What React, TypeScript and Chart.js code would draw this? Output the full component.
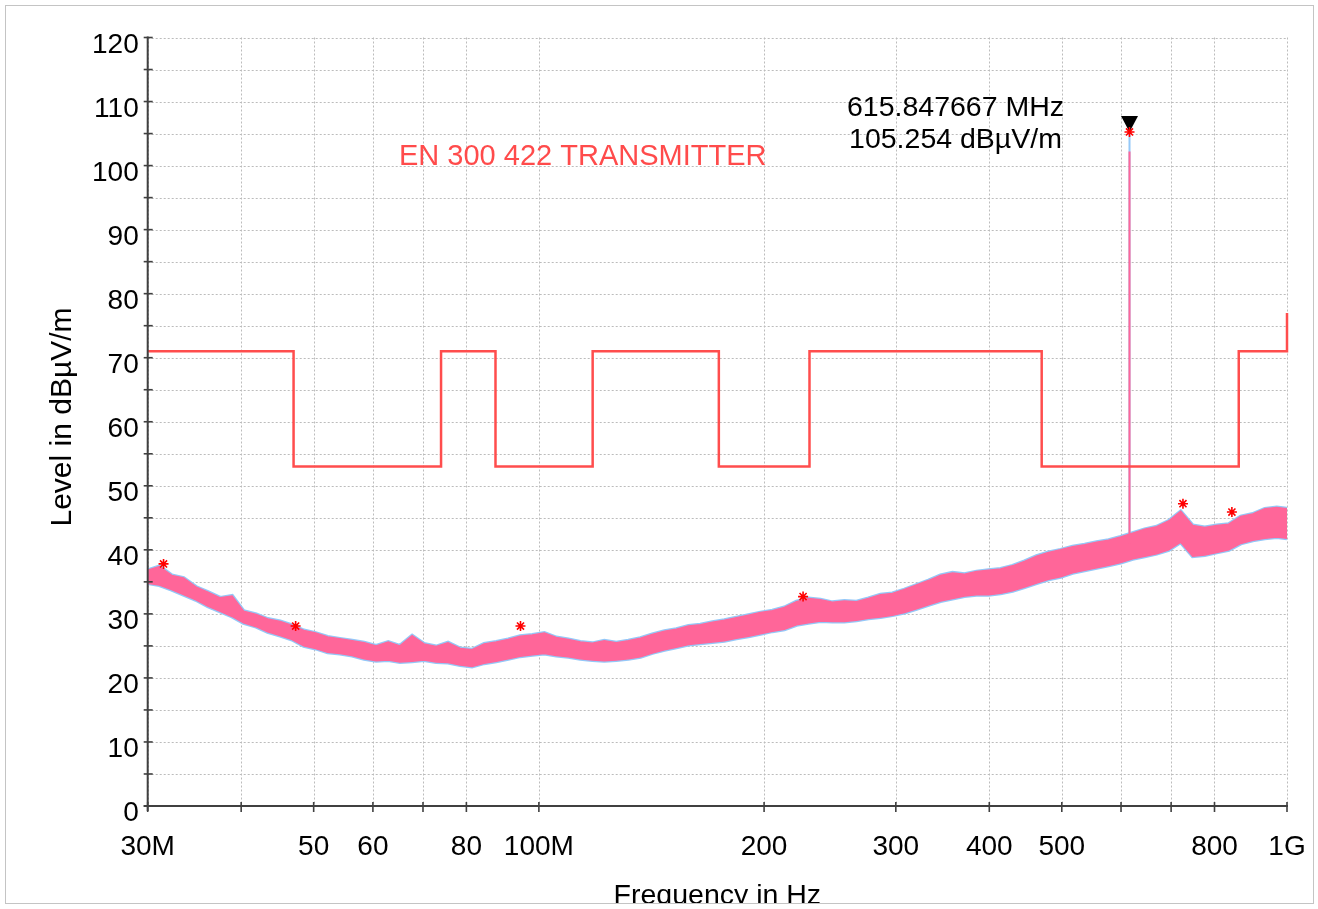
import React, { useEffect, useRef } from 'react';
import { Chart, registerables } from 'chart.js';

Chart.register(...registerables);

const FONT = '"Liberation Sans", Arial, Helvetica, sans-serif';

// Frequency points of the measured trace (MHz)
const freqMHz = [
  30, 31.1, 32.3, 33.5, 34.8, 36.1, 37.5, 38.9, 40.3, 41.9,
  43.4, 45.1, 46.8, 48.5, 50.3, 52.2, 54.2, 56.3, 58.4, 60.6,
  62.9, 65.2, 67.7, 70.2, 72.9, 75.6, 78.5, 81.4, 84.5, 87.7,
  91.0, 94.4, 98.0, 101.7, 105.5, 109.5, 113.6, 117.9, 122.3, 126.9,
  131.7, 136.7, 141.8, 147.2, 152.7, 158.5, 164.4, 170.6, 177.0, 183.7,
  190.6, 197.8, 205.2, 212.9, 221.0, 229.3, 237.9, 246.8, 256.1, 265.8,
  275.8, 286.2, 296.9, 308.1, 319.7, 331.7, 344.2, 357.2, 370.6, 384.6,
  399.1, 414.1, 429.7, 445.9, 462.7, 480.1, 498.2, 516.9, 536.4, 556.6,
  577.5, 599.3, 621.9, 645.3, 669.6, 694.8, 721.0, 748.1, 776.3, 805.5,
  835.9, 867.4, 900.0, 934.0, 969.1, 1000,
];

// Upper / lower envelope of the noise trace (dBµV/m)
const traceUpper = [
  36.8, 37.4, 36.0, 35.6, 34.2, 33.4, 32.5, 32.8, 30.4, 29.9,
  29.2, 28.8, 28.2, 27.4, 27.0, 26.4, 26.1, 25.8, 25.5, 25.0,
  25.6, 25.0, 26.6, 25.3, 24.9, 25.5, 24.6, 24.4, 25.3, 25.6,
  26.0, 26.5, 26.7, 27.0, 26.3, 26.0, 25.6, 25.4, 25.8, 25.5,
  25.8, 26.2, 26.8, 27.3, 27.6, 28.1, 28.3, 28.7, 29.0, 29.4,
  29.8, 30.2, 30.5, 31.0, 31.9, 32.4, 32.2, 31.8, 32.0, 31.9,
  32.4, 33.0, 33.2, 33.8, 34.5, 35.2, 36.0, 36.4, 36.2, 36.6,
  36.8, 37.0, 37.5, 38.2, 39.0, 39.6, 40.0, 40.5, 40.8, 41.2,
  41.5, 42.0, 42.6, 43.2, 43.6, 44.5, 46.0, 43.8, 43.5, 43.8,
  44.0, 45.2, 45.6, 46.4, 46.6, 46.4,
];
const traceLower = [
  34.8, 34.5, 33.8, 33.0, 32.2, 31.2, 30.4, 29.6, 28.6, 28.0,
  27.2, 26.6, 26.0, 25.0, 24.6, 24.0, 23.8, 23.5, 23.0, 22.7,
  22.8, 22.5, 22.6, 22.8, 22.5, 22.4, 22.0, 21.8, 22.3, 22.6,
  23.0, 23.4, 23.6, 23.8, 23.5, 23.3, 23.0, 22.8, 22.7, 22.8,
  23.0, 23.3, 23.9, 24.4, 24.8, 25.2, 25.4, 25.6, 25.8, 26.2,
  26.5, 26.9, 27.3, 27.6, 28.3, 28.6, 28.9, 28.8, 28.8, 29.0,
  29.3, 29.5, 29.8, 30.2, 30.8, 31.4, 32.0, 32.4, 32.8, 33.0,
  33.0, 33.2, 33.6, 34.2, 34.8, 35.4, 35.8, 36.4, 36.8, 37.2,
  37.6, 38.0, 38.6, 39.0, 39.4, 40.0, 41.2, 39.0, 39.2, 39.6,
  40.0, 41.0, 41.5, 41.8, 42.0, 41.8,
];

// EN 300 422 limit line vertices
const limitFreq = [30, 47, 47, 74, 74, 87.5, 87.5, 118, 118, 174, 174, 230, 230, 470, 470, 862, 862, 1000, 1000];
const limitLevel = [71, 71, 53, 53, 71, 71, 53, 53, 71, 71, 53, 53, 71, 71, 53, 53, 71, 71, 77];

// Peak markers (red stars)
const peakFreq = [31.5, 47.3, 94.5, 225.5, 615.847667, 726, 844];
const peakLevel = [37.8, 28.1, 28.1, 32.7, 105.254, 47.2, 45.9];

// Carrier spike
const spikeFreq = 615.847667;
const spikeBase = 41;
const spikePinkTop = 102.2;
const spikeBlueTop = 105.254;

const markerFreq = 615.847667;
const markerLevel = 105.254;
const markerText = ['615.847667 MHz', '105.254 dBµV/m'];
const titleText = 'EN 300 422 TRANSMITTER';
const yTitle = 'Level in dBµV/m';
const xTitle = 'Frequency in Hz';

const xGridValues = [30, 40, 50, 60, 70, 80, 100, 200, 300, 400, 500, 600, 700, 800, 1000];
const xLabelValues = [30, 50, 60, 80, 100, 200, 300, 400, 500, 800, 1000];
const xLabelTexts = ['30M', '50', '60', '80', '100M', '200', '300', '400', '500', '800', '1G'];
const yGridValues = [0, 5, 10, 15, 20, 25, 30, 35, 40, 45, 50, 55, 60, 65, 70, 75, 80, 85, 90, 95, 100, 105, 110, 115, 120];
const yLabelValues = [0, 10, 20, 30, 40, 50, 60, 70, 80, 90, 100, 110, 120];

const PINK = '#ff6699';
const BLUE = '#94c8f8';
const LIMIT = '#ff4d4d';
const AXIS = '#404040';

const pts = (xs: number[], ys: number[]) => xs.map((x, i) => ({ x, y: ys[i] }));

const decorPlugin = {
  id: 'decor',
  beforeDatasetsDraw(chart: any) {
    const { ctx, chartArea, scales } = chart;
    const { left, right, top, bottom } = chartArea;
    const x = scales.x;
    const y = scales.y;
    ctx.save();
    ctx.strokeStyle = '#bcbcbc';
    ctx.lineWidth = 1;
    ctx.setLineDash([2, 2]);
    yGridValues.forEach((v) => {
      const py = Math.round(y.getPixelForValue(v)) + 0.5;
      ctx.beginPath();
      ctx.moveTo(left, py);
      ctx.lineTo(right, py);
      ctx.stroke();
    });
    xGridValues.forEach((v) => {
      const px = Math.round(x.getPixelForValue(v)) + 0.5;
      ctx.beginPath();
      ctx.moveTo(px, top);
      ctx.lineTo(px, bottom);
      ctx.stroke();
    });
    ctx.setLineDash([]);
    // marker triangle
    const mx = x.getPixelForValue(markerFreq);
    const my = y.getPixelForValue(markerLevel);
    ctx.fillStyle = '#000';
    ctx.beginPath();
    ctx.moveTo(mx - 8.5, my - 16);
    ctx.lineTo(mx + 8.5, my - 16);
    ctx.lineTo(mx, my);
    ctx.closePath();
    ctx.fill();
    ctx.restore();
  },
  afterDatasetsDraw(chart: any) {
    const { ctx, chartArea, scales } = chart;
    const { left, right, top, bottom } = chartArea;
    const x = scales.x;
    const y = scales.y;
    ctx.save();
    ctx.strokeStyle = AXIS;
    ctx.lineWidth = 2;
    // axes
    ctx.beginPath();
    ctx.moveTo(left, top - 1);
    ctx.lineTo(left, bottom + 5);
    ctx.moveTo(left - 4, bottom);
    ctx.lineTo(right + 1, bottom);
    ctx.stroke();
    // ticks
    ctx.lineWidth = 1.6;
    yGridValues.forEach((v) => {
      const py = y.getPixelForValue(v);
      ctx.beginPath();
      ctx.moveTo(left - 4, py);
      ctx.lineTo(left + 5, py);
      ctx.stroke();
    });
    xGridValues.forEach((v) => {
      const px = x.getPixelForValue(v);
      ctx.beginPath();
      ctx.moveTo(px, bottom - 4);
      ctx.lineTo(px, bottom + 6);
      ctx.stroke();
    });
    // tick labels
    ctx.fillStyle = '#000';
    ctx.font = `28px ${FONT}`;
    ctx.textAlign = 'right';
    ctx.textBaseline = 'alphabetic';
    yLabelValues.forEach((v) => {
      ctx.fillText(String(v), left - 9, y.getPixelForValue(v) + 15);
    });
    ctx.textAlign = 'center';
    xLabelValues.forEach((v, i) => {
      ctx.fillText(xTickLabel(i), x.getPixelForValue(v), bottom + 49);
    });
    // axis titles
    ctx.font = `28.5px ${FONT}`;
    ctx.fillText(xTitle, (left + right) / 2, 898);
    ctx.save();
    ctx.font = `30px ${FONT}`;
    ctx.translate(65, 411);
    ctx.rotate(-Math.PI / 2);
    ctx.fillText(yTitle, 0, 0);
    ctx.restore();
    // limit title
    ctx.font = `29px ${FONT}`;
    ctx.fillStyle = '#ff4b4b';
    ctx.textAlign = 'left';
    ctx.fillText(titleText, 393, 159);
    // marker annotation
    const mx = x.getPixelForValue(markerFreq);
    const my = y.getPixelForValue(markerLevel);
    ctx.font = `28.5px ${FONT}`;
    ctx.fillStyle = '#000';
    ctx.textAlign = 'center';
    ctx.fillText(markerText[0], mx - 174, my - 15.5);
    ctx.fillText(markerText[1], mx - 174, my + 16.5);
    ctx.restore();
  },
};

function xTickLabel(i: number) {
  return xLabelTexts[i];
}

export default function App() {
  const canvasRef = useRef<HTMLCanvasElement | null>(null);

  useEffect(() => {
    const canvas = canvasRef.current;
    if (!canvas) return;
    const chart = new Chart(canvas, {
      type: 'line',
      data: {
        datasets: [
          {
            label: 'Peaks',
            data: pts(peakFreq, peakLevel),
            showLine: false,
            pointStyle: 'star',
            pointRadius: 5,
            pointBorderWidth: 1.6,
            pointBorderColor: '#ff0000',
            pointBackgroundColor: '#ff0000',
            order: 0,
          },
          {
            label: 'Limit',
            data: pts(limitFreq, limitLevel),
            borderColor: LIMIT,
            borderWidth: 2.5,
            pointRadius: 0,
            fill: false,
            clip: 4,
            order: 1,
          },
          {
            label: 'Spike pink',
            data: [{ x: spikeFreq, y: spikeBase }, { x: spikeFreq, y: spikePinkTop }],
            borderColor: PINK,
            borderWidth: 2,
            pointRadius: 0,
            order: 2,
          },
          {
            label: 'Trace upper',
            data: pts(freqMHz, traceUpper),
            borderColor: PINK,
            backgroundColor: PINK,
            borderWidth: 1.5,
            pointRadius: 0,
            fill: '+1',
            order: 3,
          },
          {
            label: 'Trace lower',
            data: pts(freqMHz, traceLower),
            borderColor: PINK,
            borderWidth: 1.5,
            pointRadius: 0,
            fill: false,
            order: 4,
          },
          {
            label: 'Spike blue',
            data: [{ x: spikeFreq, y: spikeBase }, { x: spikeFreq, y: spikeBlueTop }],
            borderColor: BLUE,
            borderWidth: 2,
            pointRadius: 0,
            order: 5,
          },
          {
            label: 'Trace2 upper',
            data: pts(freqMHz, traceUpper),
            borderColor: BLUE,
            backgroundColor: BLUE,
            borderWidth: 4,
            pointRadius: 0,
            fill: '+1',
            order: 6,
          },
          {
            label: 'Trace2 lower',
            data: pts(freqMHz, traceLower),
            borderColor: BLUE,
            borderWidth: 4,
            pointRadius: 0,
            fill: false,
            order: 7,
          },
        ],
      },
      options: {
        animation: false,
        responsive: false,
        devicePixelRatio: 1,
        layout: { padding: { left: 141.7, top: 31.5, right: 26, bottom: 97 } },
        plugins: {
          legend: { display: false },
          tooltip: { enabled: false },
          title: { display: false },
        },
        elements: { line: { tension: 0 } },
        scales: {
          x: { type: 'logarithmic', min: 30, max: 1000, display: false },
          y: { type: 'linear', min: 0, max: 120, display: false },
        },
      },
      plugins: [decorPlugin],
    } as any);
    return () => chart.destroy();
  }, []);

  return (
    <div
      style={{
        position: 'absolute',
        left: 5,
        top: 5,
        width: 1309,
        height: 899,
        border: '1px solid #c4c4c4',
        boxSizing: 'border-box',
        overflow: 'hidden',
        background: '#fff',
      }}
    >
      <canvas ref={canvasRef} width={1307} height={897} style={{ display: 'block', width: 1307, height: 897 }} />
    </div>
  );
}
